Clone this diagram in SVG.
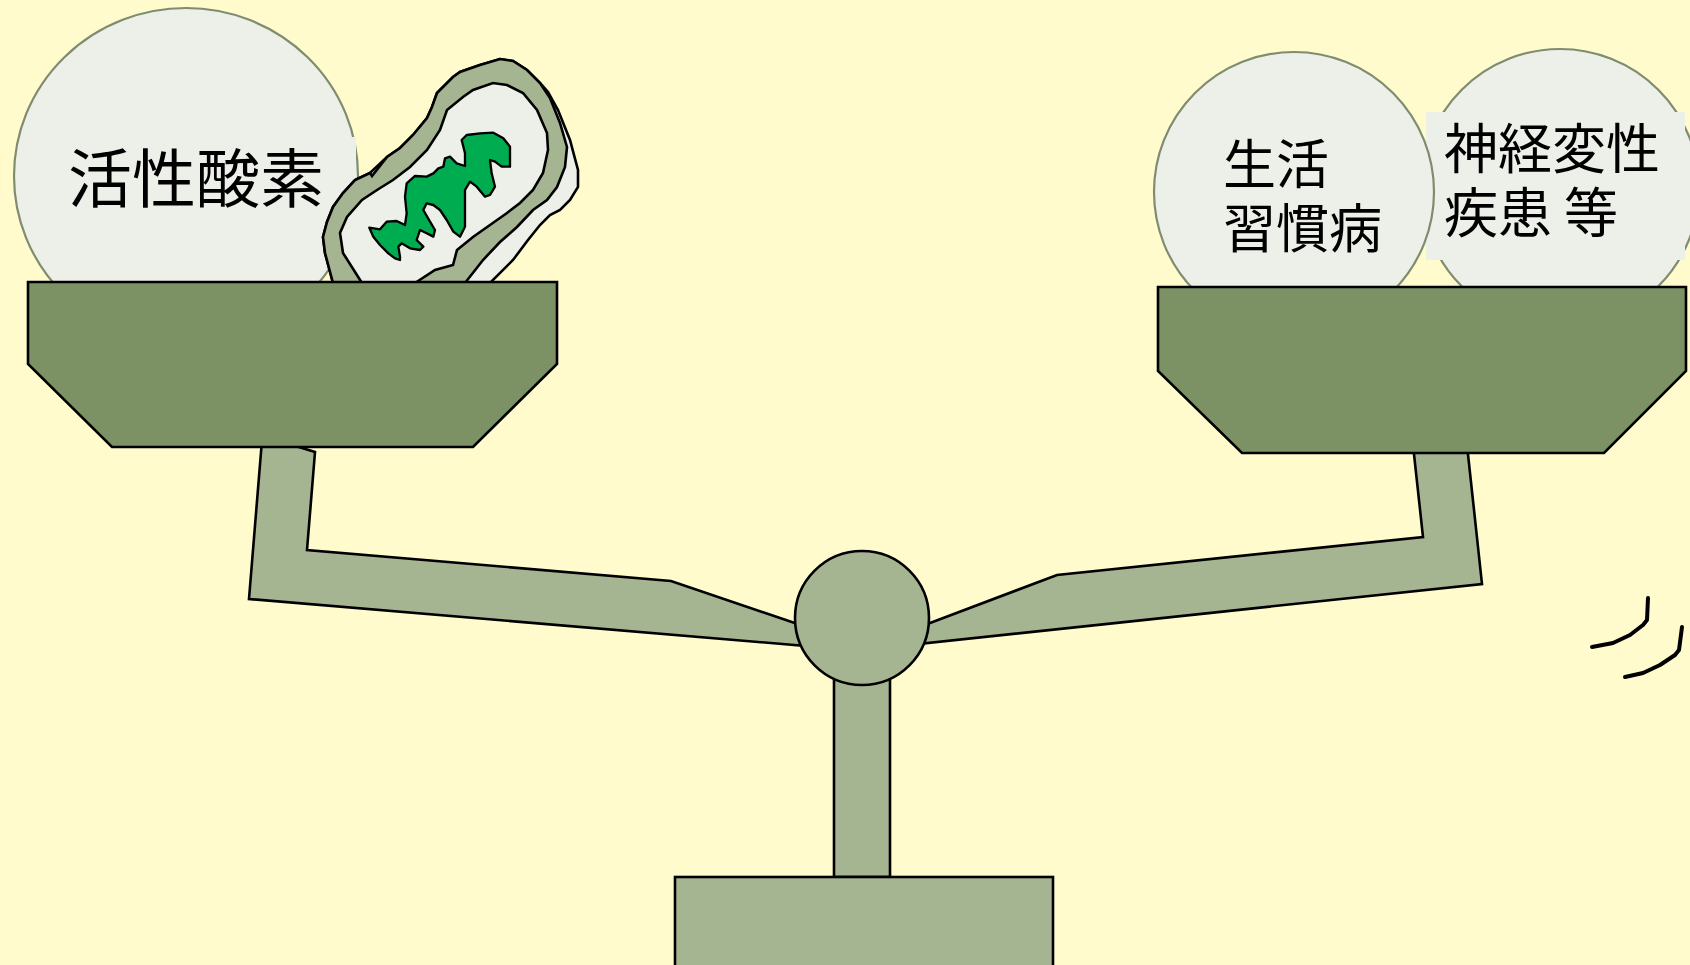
<svg xmlns="http://www.w3.org/2000/svg" width="1690" height="965" viewBox="0 0 1690 965">
  <style>
    .ln { stroke: #000; stroke-width: 2.6; stroke-linejoin: miter; }
    .pan { fill: #7D9264; }
    .bar { fill: #A5B592; }
    .ball { fill: #EDF0E8; stroke: #7F8C70; stroke-width: 2.2; }
    .pale { fill: #EDF0E8; }
    .txt { font-family: "Noto Sans CJK JP", "Noto Sans", sans-serif; fill: #000; }
    .motion { fill: none; stroke: #000; stroke-width: 4; stroke-linecap: round; stroke-linejoin: round; }
  </style>

  <rect x="0" y="0" width="1690" height="965" fill="#FFFBCC"/>

  <!-- left load: reactive oxygen ball -->
  <g id="ball-ros">
    <ellipse class="ball" cx="186" cy="176" rx="172" ry="168"/>
    <rect class="pale" x="60" y="137" width="296" height="78"/>
    <text class="txt" x="68" y="202" font-size="64">活性酸素</text>
  </g>

  <!-- mitochondrion leaning on the left pan -->
  <g id="mitochondrion">
    <path class="pale ln" stroke-width="2.4" d="M333,283 L325,253 L323,237 L327,222 L333,207 L343,193 L355,180 L370,173 L387,157 L400,148 L413,135 L427,118 L432,107 L437,93 L443,87 L453,77 L460,72 L480,65 L500,59 L513,61 L527,70 L540,83 L548,92 L558,110 L570,140 L578,170 L578,187 L570,200 L560,210 L550,215 L540,225 L528,240 L513,260 L490,283 Z"/>
    <path class="bar ln" stroke-width="2.4" d="M333,283 L325,253 L323,237 L327,222 L333,207 L343,193 L355,180 L370,173 L372,176 L387,157 L400,148 L413,135 L427,118 L432,107 L437,93 L443,87 L453,77 L460,72 L480,65 L500,59 L513,61 L527,70 L540,83 L550,98 L560,123 L567,147 L565,167 L557,187 L547,200 L533,210 L517,227 L500,242 L483,260 L465,283 Z"/>
    <path class="pale ln" stroke-width="2.4" d="M362,283 L343,253 L340,233 L347,217 L362,200 L377,190 L393,180 L410,167 L427,150 L440,130 L447,110 L463,97 L473,90 L493,83 L507,85 L523,93 L537,110 L547,133 L548,150 L543,173 L533,190 L520,203 L507,213 L490,225 L473,237 L457,250 L453,265 L435,270 L415,283 Z"/>
    <path fill="#00AC50" stroke="#000" stroke-width="7" stroke-linejoin="round" transform="translate(300 40) scale(0.33333)" d="M208,563 L240,568 L260,545 L290,543 L315,555 L320,520 L315,470 L320,430 L345,408 L380,410 L400,400 L415,385 L430,380 L435,355 L450,350 L470,370 L495,378 L495,340 L485,300 L500,285 L540,280 L580,278 L610,295 L630,320 L630,380 L605,380 L585,365 L570,360 L575,400 L585,440 L570,465 L555,470 L530,440 L510,425 L495,450 L495,520 L495,560 L480,590 L460,575 L440,540 L420,510 L400,495 L380,490 L370,510 L390,545 L405,570 L400,590 L380,580 L360,570 L350,600 L370,620 L360,630 L330,625 L305,610 L295,620 L300,650 L300,660 L285,655 L265,640 L240,615 L220,590 Z"/>
  </g>

  <!-- right load: two disease balls -->
  <g id="ball-neuro">
    <circle class="ball" cx="1560" cy="188" r="139"/>
    <rect class="pale" x="1426" y="112" width="259" height="148"/>
    <text class="txt" font-size="54"><tspan x="1444" y="169">神経変性</tspan><tspan x="1444" y="233">疾患 等</tspan></text>
  </g>
  <g id="ball-lifestyle">
    <circle class="ball" cx="1294" cy="192" r="140"/>
    <text class="txt" font-size="53"><tspan x="1223" y="184">生活</tspan><tspan x="1223" y="248">習慣病</tspan></text>
  </g>

  <!-- beam arms, pivot, post and base -->
  <g id="beam">
    <polygon class="bar ln" points="262,440 276,440 315,452 307,550 671,581 830,635 830,648 249,599"/>
    <polygon class="bar ln" points="1413,445 1467,445 1482,584 890,647 890,638 930,623 1057,575 1423,537"/>
    <rect class="bar ln" x="834" y="660" width="56" height="217"/>
    <rect class="bar ln" x="675" y="877" width="378" height="100"/>
    <circle class="bar ln" cx="862" cy="618" r="67"/>
  </g>

  <!-- pans -->
  <g id="pan-left">
    <polygon class="pan ln" points="28,282 557,282 557,364 473,447 112,447 28,364"/>
  </g>
  <g id="pan-right">
    <polygon class="pan ln" points="1158,287 1686,287 1686,371 1604,453 1242,453 1158,371"/>
  </g>

  <!-- wobble marks -->
  <g id="motion-marks">
    <path class="motion" d="M1648,598 L1647,620 L1643,625 L1630,635 L1613,643 L1592,647"/>
    <path class="motion" d="M1682,627 L1679,650 L1675,655 L1660,665 L1643,673 L1625,677"/>
  </g>
</svg>
